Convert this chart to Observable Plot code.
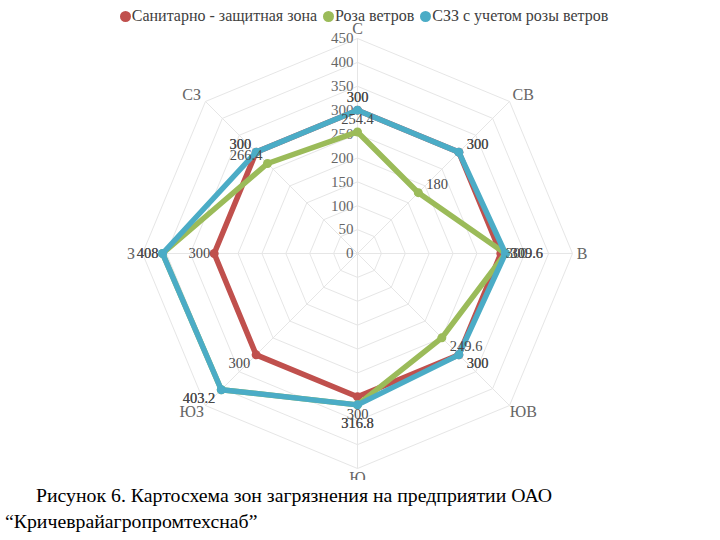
<!DOCTYPE html>
<html><head><meta charset="utf-8">
<script src="https://cdn.jsdelivr.net/npm/d3@7"></script>
<script src="https://cdn.jsdelivr.net/npm/@observablehq/plot@0.6"></script>
<style>
body{margin:0;background:#fff;width:720px;height:540px;overflow:hidden;font-family:"Liberation Serif","Times New Roman",serif}
#wrap{position:relative;width:720px;height:480px;overflow:hidden}
#legend{position:absolute;top:7px;left:0;width:720px;text-align:center;font-size:16px;color:#404040;padding-left:8px;box-sizing:border-box;white-space:nowrap}
#legend span.item{margin:0 3px}
#legend span.dot{display:inline-block;width:11px;height:11px;border-radius:50%;vertical-align:-1px;margin-right:1px}
#caption{font-size:19.8px;color:#000;line-height:26px;padding-top:2px}
#caption .l1{padding-left:36px}
#caption .l2{padding-left:5px}
</style></head>
<body>
<div id="wrap"><div id="chart"></div><div id="legend"></div></div>
<div id="caption"><div class="l1">Рисунок 6. Картосхема зон загрязнения на предприятии ОАО</div><div class="l2">“Кричеврайагропромтехснаб”</div></div>
<script>
const directions = ["С","СВ","В","ЮВ","Ю","ЮЗ","З","СЗ"];
const seriesNames = ["Санитарно - защитная зона","Роза ветров","СЗЗ с учетом розы ветров"];
const seriesColors = ["#C0504D","#9BBB59","#4BACC6"];
const szz = [300,300,300,300,300,300,300,300];
const windRose = [254.4,180,309.6,249.6,316.8,403.2,408,266.4];
const szzWind = [300,300,309.6,300,316.8,403.2,408,300];
const tickValues = [0,50,100,150,200,250,300,350,400,450];
const seriesValues = [szz, windRose, szzWind];

const W = 720, H = 480, cx = 357, cy = 253, k = 215/450;
const ang = i => i * Math.PI / 4;
const px = (r,i) => r * Math.sin(ang(i));
const py = (r,i) => r * Math.cos(ang(i));
const FONT = '"Liberation Serif","Times New Roman",serif';

const leg = document.getElementById("legend");
seriesNames.forEach((n,j)=>{
  const s = document.createElement("span"); s.className="item";
  s.innerHTML = `<span class="dot" style="background:${seriesColors[j]}"></span>${n}`;
  leg.appendChild(s);
});

const rings = [];
tickValues.filter(t=>t>0).forEach(t=>{ for(let i=0;i<=8;i++) rings.push({t, i: i%8}); });
const spokes = directions.map((d,i)=>({i}));

const marks = [];
marks.push(Plot.line(rings, {x: d=>px(d.t,d.i), y: d=>py(d.t,d.i), z: "t", stroke: "#e6e6e6", strokeWidth: 1}));
marks.push(Plot.link(spokes, {x1: d=>px(0,d.i), y1: d=>py(0,d.i), x2: d=>px(450,d.i), y2: d=>py(450,d.i), stroke: "#e6e6e6", strokeWidth: 1}));
marks.push(Plot.text(tickValues, {x: d=>px(d,0), y: d=>py(d,0), text: d=>String(d), textAnchor: "end", dx: -4, fill: "#666666", fontSize: 15}));

const dirOff = [[0,0],[7,0],[0,0],[7,0],[0,0],[-7,0],[-2,0],[-7,0]];
directions.forEach((name,i)=>{
  marks.push(Plot.text([i], {x: d=>px(470,d), y: d=>py(470,d), text: d=>directions[d], dx: dirOff[i][0], fill: "#666666", fontSize: 16}));
});

seriesValues.forEach((vals,j)=>{
  const rows = vals.map((v,i)=>({v,i}));
  const closed = rows.concat([rows[0]]);
  marks.push(Plot.line(closed, {x: d=>px(d.v,d.i), y: d=>py(d.v,d.i), stroke: seriesColors[j], strokeWidth: 5.5, strokeLinejoin: "round"}));
  marks.push(Plot.dot(rows, {x: d=>px(d.v,d.i), y: d=>py(d.v,d.i), fill: seriesColors[j], r: 4.5}));
});

const labelPos = [
  {a:"middle",dx:0,dy:-13},
  {a:"start",dx:8,dy:-8},
  {a:"start",dx:5,dy:0},
  {a:"start",dx:8,dy:9},
  {a:"middle",dx:0,dy:18},
  {a:"end",dx:-6,dy:9},
  {a:"end",dx:-4,dy:0},
  {a:"end",dx:-5,dy:-8}
];
const labelRows = [];
seriesValues.forEach((vals,j)=>vals.forEach((v,i)=>labelRows.push({v,i,j})));
labelPos.forEach((p,i)=>{
  marks.push(Plot.text(labelRows.filter(d=>d.i===i), {x: d=>px(d.v,d.i), y: d=>py(d.v,d.i), text: d=>String(d.v), textAnchor: p.a, dx: p.dx, dy: p.dy, fill: "#4a4a4a", fontSize: 14.5}));
});

const chart = Plot.plot({
  width: W, height: H, margin: 0,
  style: {fontFamily: FONT, background: "transparent", overflow: "hidden"},
  x: {domain: [-cx/k, (W-cx)/k], range: [0, W], axis: null},
  y: {domain: [-(H-cy)/k, cy/k], range: [H, 0], axis: null},
  marks
});
document.getElementById("chart").appendChild(chart);
</script>
</body></html>
